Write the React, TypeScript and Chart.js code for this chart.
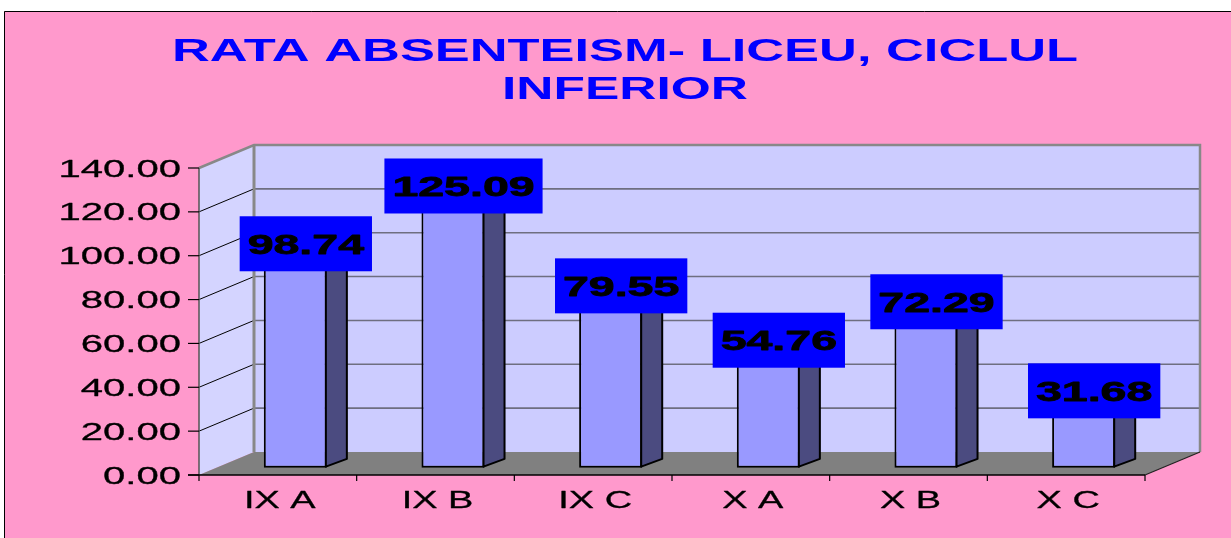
import React, { useEffect, useRef } from "react";
import { Chart, registerables } from "chart.js";

Chart.register(...registerables);

const categories = ["IX A", "IX B", "IX C", "X A", "X B", "X C"];
const values = [98.74, 125.09, 79.55, 54.76, 72.29, 31.68];
const tickValues = [0, 20, 40, 60, 80, 100, 120, 140];
const tickLabels = ["0.00", "20.00", "40.00", "60.00", "80.00", "100.00", "120.00", "140.00"];
const titleLines = ["RATA ABSENTEISM- LICEU, CICLUL", "INFERIOR"];

const W = 1231;
const H = 538;
const DX = 55;
const DY = -23;
const F1 = 0.318;
const F2 = 0.7;

function stretchText(
  ctx: CanvasRenderingContext2D,
  text: string,
  x: number,
  y: number,
  font: string,
  sx: number,
  align: "left" | "center" | "right",
  color: string,
  strokeW = 0
) {
  ctx.save();
  ctx.font = font;
  ctx.fillStyle = color;
  ctx.textBaseline = "alphabetic";
  ctx.textAlign = "left";
  const w = ctx.measureText(text).width * sx;
  const left = align === "center" ? x - w / 2 : align === "right" ? x - w : x;
  ctx.translate(left, y);
  ctx.scale(sx, 1);
  ctx.fillText(text, 0, 0);
  if (strokeW > 0) {
    ctx.strokeStyle = color;
    ctx.lineWidth = strokeW;
    ctx.lineJoin = "round";
    ctx.strokeText(text, 0, 0);
  }
  ctx.restore();
}

const threeD = {
  id: "threeD",
  beforeDraw(chart: any) {
    const ctx = chart.ctx as CanvasRenderingContext2D;
    ctx.save();
    ctx.fillStyle = "#ffffff";
    ctx.fillRect(0, 0, W, H);
    ctx.fillStyle = "#FF99CC";
    ctx.fillRect(4, 11, W, H);
    ctx.strokeStyle = "#000";
    ctx.lineWidth = 1;
    ctx.beginPath();
    ctx.moveTo(4.5, H);
    ctx.lineTo(4.5, 11.5);
    ctx.lineTo(W, 11.5);
    ctx.stroke();
    ctx.restore();
    stretchText(ctx, titleLines[0], 625, 61, "bold 31px 'Liberation Sans', Arial, sans-serif", 1.69, "center", "#0000FF");
    stretchText(ctx, titleLines[1], 625, 98.5, "bold 31px 'Liberation Sans', Arial, sans-serif", 1.66, "center", "#0000FF");
  },
  beforeDatasetsDraw(chart: any) {
    const ctx = chart.ctx as CanvasRenderingContext2D;
    const { left, right, top, bottom } = chart.chartArea;
    const ys = chart.scales.y;
    ctx.save();
    ctx.fillStyle = "#CCCCFF";
    ctx.fillRect(left + DX, top + DY, right - left, bottom - top);
    ctx.fillStyle = "#D4D4FF";
    ctx.beginPath();
    ctx.moveTo(left, top);
    ctx.lineTo(left + DX, top + DY);
    ctx.lineTo(left + DX, bottom + DY);
    ctx.lineTo(left, bottom);
    ctx.closePath();
    ctx.fill();
    ctx.fillStyle = "#808080";
    ctx.beginPath();
    ctx.moveTo(left, bottom);
    ctx.lineTo(right, bottom);
    ctx.lineTo(right + DX, bottom + DY);
    ctx.lineTo(left + DX, bottom + DY);
    ctx.closePath();
    ctx.fill();
    tickValues.forEach((v) => {
      const y = ys.getPixelForValue(v);
      if (v > 0 && v < 140) {
        ctx.strokeStyle = "#6E6E80";
        ctx.lineWidth = 1.6;
        ctx.beginPath();
        ctx.moveTo(left + DX, y + DY);
        ctx.lineTo(right + DX, y + DY);
        ctx.stroke();
        ctx.strokeStyle = "#000";
        ctx.lineWidth = 1;
        ctx.beginPath();
        ctx.moveTo(left, y);
        ctx.lineTo(left + DX, y + DY);
        ctx.stroke();
      }
    });
    ctx.strokeStyle = "#888888";
    ctx.lineWidth = 2.5;
    ctx.beginPath();
    ctx.moveTo(left, top);
    ctx.lineTo(left + DX, top + DY);
    ctx.lineTo(right + DX, top + DY);
    ctx.lineTo(right + DX, bottom + DY);
    ctx.stroke();
    ctx.lineWidth = 3;
    ctx.beginPath();
    ctx.moveTo(left + DX, top + DY);
    ctx.lineTo(left + DX, bottom + DY);
    ctx.stroke();
    ctx.strokeStyle = "#222";
    ctx.lineWidth = 1.2;
    ctx.beginPath();
    ctx.moveTo(right, bottom);
    ctx.lineTo(right + DX, bottom + DY);
    ctx.stroke();
    ctx.strokeStyle = "#555";
    ctx.lineWidth = 1.5;
    ctx.beginPath();
    ctx.moveTo(left, top);
    ctx.lineTo(left, bottom);
    ctx.stroke();
    ctx.restore();

    ctx.save();
    ctx.translate(F1 * DX, F1 * DY);
  },
  afterDatasetsDraw(chart: any) {
    const ctx = chart.ctx as CanvasRenderingContext2D;
    const meta = chart.getDatasetMeta(0);
    const ddx = (F2 - F1) * DX;
    const ddy = (F2 - F1) * DY;
    const tops: { cx: number; cy: number }[] = [];
    meta.data.forEach((el: any) => {
      const { x, y, base, width } = el.getProps(["x", "y", "base", "width"], true);
      const xl = x - width / 2;
      const xr = x + width / 2;
      ctx.lineWidth = 2;
      ctx.strokeStyle = "#000";
      ctx.lineJoin = "round";
      ctx.fillStyle = "#4B4B80";
      ctx.beginPath();
      ctx.moveTo(xr - 1, y);
      ctx.lineTo(xr - 1 + ddx, y + ddy);
      ctx.lineTo(xr - 1 + ddx, base + ddy);
      ctx.lineTo(xr - 1, base - 1);
      ctx.closePath();
      ctx.fill();
      ctx.stroke();
      ctx.fillStyle = "#B3B3FF";
      ctx.beginPath();
      ctx.moveTo(xl + 1, y + 1);
      ctx.lineTo(xr - 1, y + 1);
      ctx.lineTo(xr - 1 + ddx, y + ddy);
      ctx.lineTo(xl + 1 + ddx, y + ddy);
      ctx.closePath();
      ctx.fill();
      ctx.stroke();
      tops.push({ cx: x + F1 * DX + ddx / 2, cy: y + F1 * DY + ddy / 2 });
    });
    ctx.restore();

    const font = "bold 28px 'Liberation Sans', Arial, sans-serif";
    const sx = 1.66;
    tops.forEach((t, i) => {
      const txt = values[i].toFixed(2);
      ctx.save();
      ctx.font = font;
      const tw = ctx.measureText(txt).width * sx;
      ctx.restore();
      const bw = tw + 16;
      const bh = 55;
      const cy = t.cy - 3;
      ctx.fillStyle = "#0000FF";
      ctx.fillRect(t.cx - bw / 2, cy - bh / 2, bw, bh);
      stretchText(ctx, txt, t.cx, cy + 10, font, sx, "center", "#000", 0.8);
    });

    const { left, right, bottom } = chart.chartArea;
    const ys = chart.scales.y;
    const xs = chart.scales.x;
    ctx.save();
    ctx.strokeStyle = "#000";
    ctx.lineWidth = 1.5;
    ctx.beginPath();
    ctx.moveTo(left - 11, bottom);
    ctx.lineTo(right, bottom);
    ctx.stroke();
    ctx.lineWidth = 1.2;
    tickValues.forEach((v, i) => {
      const y = ys.getPixelForValue(v);
      ctx.beginPath();
      ctx.moveTo(left - 11, y);
      ctx.lineTo(left, y);
      ctx.stroke();
      stretchText(ctx, tickLabels[i], 181, y + 8.5, "24px 'Liberation Sans', Arial, sans-serif", 1.67, "right", "#000", 0.3);
    });
    const cw = (right - left) / categories.length;
    for (let i = 0; i <= categories.length; i++) {
      const x = left + i * cw;
      ctx.beginPath();
      ctx.moveTo(x, bottom);
      ctx.lineTo(x, bottom + 6);
      ctx.stroke();
    }
    categories.forEach((c, i) => {
      const x = xs.getPixelForValue(i);
      stretchText(ctx, c, x + 2, 508, "24px 'Liberation Sans', Arial, sans-serif", 1.58, "center", "#000", 0.3);
    });
    ctx.restore();
  },
};

export default function App() {
  const ref = useRef<HTMLCanvasElement | null>(null);
  useEffect(() => {
    if (!ref.current) return;
    const chart = new Chart(ref.current, {
      type: "bar",
      data: {
        labels: categories,
        datasets: [
          {
            data: values,
            backgroundColor: "#9999FF",
            borderColor: "#000000",
            borderWidth: 2,
            borderSkipped: false,
            barPercentage: 0.4,
            categoryPercentage: 1,
            clip: false as any,
          },
        ],
      },
      options: {
        responsive: false,
        animation: false,
        devicePixelRatio: 1,
        layout: { padding: { left: 199, right: W - 1145, top: 168, bottom: H - 475 } },
        plugins: { legend: { display: false }, tooltip: { enabled: false }, title: { display: false } },
        scales: {
          x: { type: "category", display: false, offset: true },
          y: { type: "linear", display: false, min: 0, max: 140 },
        },
      },
      plugins: [threeD],
    });
    return () => chart.destroy();
  }, []);
  return (
    <div style={{ position: "fixed", left: 0, top: 0, width: W, height: H }}>
      <canvas ref={ref} width={W} height={H} style={{ display: "block", width: W, height: H }} />
    </div>
  );
}
